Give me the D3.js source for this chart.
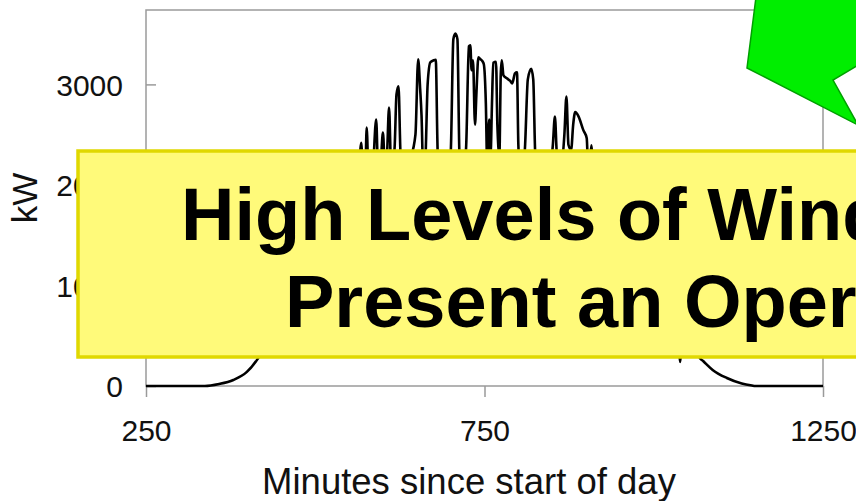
<!DOCTYPE html>
<html>

<head>
    <meta charset="utf-8">
    <title></title>
    <script src="https://d3js.org/d3.v7.min.js"></script>
    <style>
        html,
        body {
            margin: 0;
            padding: 0;
            background: white;
        }
    </style>
</head>

<body>

    <div id="chart"></div>

    <script>
        // Data: minutes since start of day vs kW
        const minutes = [250, 300, 337, 358, 379, 399, 415, 435, 460, 485, 510, 535, 555, 563,
            568, 571, 574, 576, 579, 585, 590, 593, 597, 600, 603, 606, 609, 612, 617, 620, 623,
            626, 630, 640, 648, 652, 655, 657, 660, 663, 666, 670, 675, 678, 681, 690, 700, 704,
            707, 710, 713, 718, 723, 727, 729, 731, 733, 736, 738, 741, 744, 747, 749, 752, 754,
            757, 759, 761, 763, 767, 769, 772, 774, 775.5, 778, 783, 788, 791, 795, 798, 800, 805,
            810, 814, 819, 822, 825, 835, 845, 851, 854, 857, 863, 868, 871, 874, 878, 881, 884,
            889, 896, 901, 903, 906, 908, 910, 920, 940, 960, 980, 1000, 1020, 1035, 1039, 1042,
            1055, 1064, 1068, 1073, 1087, 1108, 1130, 1145, 1150, 1250];

        const kw = [0, 0, 0, 20, 60, 140, 270, 520, 850, 1150, 1450, 1700, 1900, 2000,
            2420, 1950, 2100, 2570, 2000, 2150, 2650, 2100, 2250, 2520, 2150, 2300, 2770, 2200, 2350, 2900, 2980,
            2300, 2100, 2250, 2500, 3250, 2950, 2690, 2000, 2300, 3000, 3220, 3240, 3245, 2300, 1900, 2300, 3450,
            3505, 3450, 2300, 2000, 2400, 3380, 3390, 3140, 3240, 2600, 2900, 3270, 3250, 3230, 3200, 2810, 2200,
            2650, 2300, 2800, 3215, 3225, 2600, 2300, 3100, 3240, 3090, 3060, 3035, 3010, 3110, 3120, 2400, 1900,
            2400, 3050, 3155, 3050, 2300, 1800, 2000, 2400, 2680, 2300, 2200, 2500, 2880, 2400, 2350, 2600, 2725,
            2680, 2545, 2465, 2200, 2250, 2395, 2200, 1900, 1700, 2000, 1500, 1300, 900, 700, 240, 650,
            600, 400, 280, 248, 160, 80, 25, 5, 0, 0];

        const xTicks = [250, 750, 1250];
        const yTicks = [0, 1000, 2000, 3000];

        const titleLines = ["High Levels of Wind", "Present an Oper"];

        const dataset = minutes.map((m, i) => ({ minute: m, kw: kw[i] }));

        const width = 856;
        const height = 501;
        const font = "'Liberation Sans', Arial, sans-serif";

        const svg = d3.select("#chart")
            .append("svg")
            .attr("width", width)
            .attr("height", height)
            .style("display", "block");

        svg.append("rect")
            .attr("width", width)
            .attr("height", height)
            .attr("fill", "white");

        // Scales
        const xScale = d3.scaleLinear().domain([250, 1250]).range([146, 823]);
        const yScale = d3.scaleLinear().domain([0, 3740]).range([386, 10]);

        // Plot frame
        svg.append("rect")
            .attr("x", xScale(250))
            .attr("y", yScale(3740))
            .attr("width", xScale(1250) - xScale(250))
            .attr("height", yScale(0) - yScale(3740))
            .attr("fill", "none")
            .attr("stroke", "#9a9a9a")
            .attr("stroke-width", 1.5);

        // X axis (ticks point down)
        const xAxis = svg.append("g")
            .attr("transform", `translate(0,${yScale(0)})`)
            .call(d3.axisBottom(xScale).tickValues(xTicks).tickSize(11).tickPadding(23)
                .tickFormat(d3.format("d")));

        // Y axis (ticks point inward)
        const yAxis = svg.append("g")
            .attr("transform", `translate(${xScale(250)},0)`)
            .call(d3.axisLeft(yScale).tickValues(yTicks).tickSize(-10).tickPadding(23)
                .tickFormat(d3.format("d")));

        [xAxis, yAxis].forEach((ax) => {
            ax.select(".domain").remove();
            ax.selectAll(".tick line").attr("stroke", "#9a9a9a").attr("stroke-width", 1.5);
            ax.selectAll(".tick text")
                .attr("fill", "#111")
                .style("font-family", font)
                .style("font-size", "30px");
        });
        yAxis.selectAll(".tick text").attr("dy", "0.36em");

        // Axis titles
        svg.append("text")
            .attr("x", 469)
            .attr("y", 494)
            .attr("text-anchor", "middle")
            .attr("fill", "#111")
            .style("font-family", font)
            .style("font-size", "36.5px")
            .text("Minutes since start of day");

        svg.append("text")
            .attr("transform", "translate(37,198) rotate(-90)")
            .attr("text-anchor", "middle")
            .attr("fill", "#111")
            .style("font-family", font)
            .style("font-size", "35px")
            .text("kW");

        // Power curve
        const line = d3.line()
            .x((d) => xScale(d.minute))
            .y((d) => yScale(d.kw))
            .curve(d3.curveMonotoneX);

        svg.append("path")
            .datum(dataset)
            .attr("fill", "none")
            .attr("stroke", "black")
            .attr("stroke-width", 2.6)
            .attr("stroke-linejoin", "round")
            .attr("d", line);

        // Green callout arrow (top right)
        svg.append("polygon")
            .attr("points", "756,-3 747,68 858,125 833,80 860,64 860,-3")
            .attr("fill", "#00ee00")
            .attr("stroke", "#00a000")
            .attr("stroke-width", 1.5);

        // Yellow banner
        svg.append("rect")
            .attr("x", 78)
            .attr("y", 151)
            .attr("width", 820)
            .attr("height", 206)
            .attr("fill", "#fffa7a")
            .attr("stroke", "#e0d800")
            .attr("stroke-width", 3.5);

        const bannerX = [181, 285];
        const bannerY = [240, 327];
        titleLines.forEach((t, i) => {
            svg.append("text")
                .attr("x", bannerX[i])
                .attr("y", bannerY[i])
                .attr("fill", "black")
                .style("font-family", font)
                .style("font-weight", "bold")
                .style("font-size", "74px")
                .text(t);
        });
    </script>
</body>

</html>
